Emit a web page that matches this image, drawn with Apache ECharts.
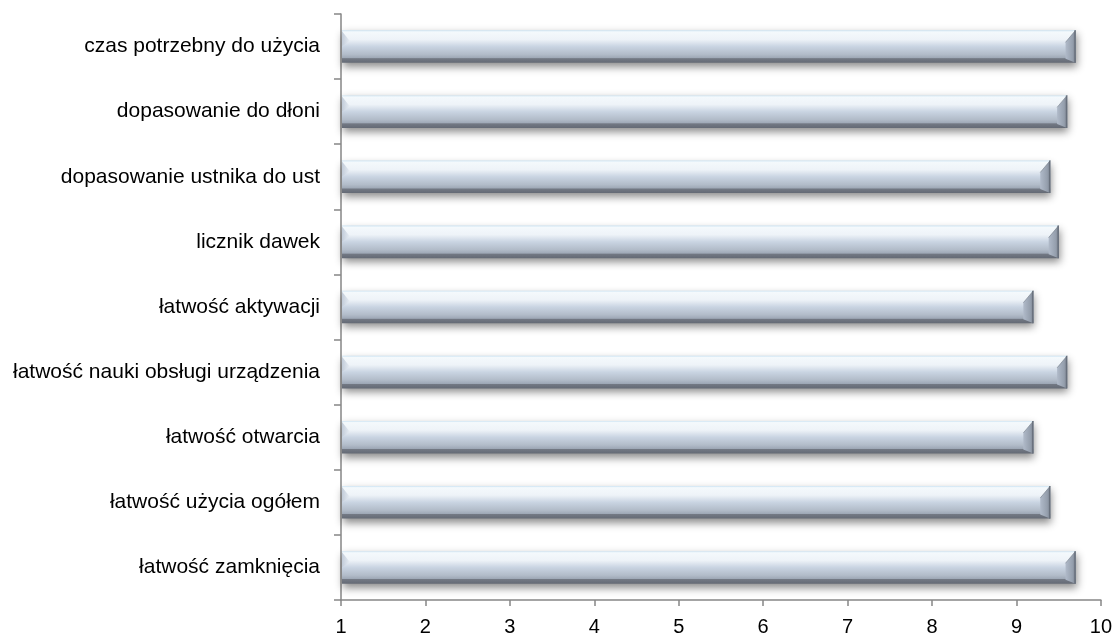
<!DOCTYPE html>
<html>
<head>
<meta charset="utf-8">
<script src="https://cdn.jsdelivr.net/npm/echarts@6/dist/echarts.min.js"></script>
<style>
  html, body { margin: 0; padding: 0; background: #fff; }
  #chart { width: 1115px; height: 637px; }
</style>
</head>
<body>
<div id="chart"></div>
<script>
// Ratings per feature (scale 1–10), listed top to bottom
const categories = [
  'czas potrzebny do użycia',
  'dopasowanie do dłoni',
  'dopasowanie ustnika do ust',
  'licznik dawek',
  'łatwość aktywacji',
  'łatwość nauki obsługi urządzenia',
  'łatwość otwarcia',
  'łatwość użycia ogółem',
  'łatwość zamknięcia'
];
const scores = [9.7, 9.6, 9.4, 9.5, 9.2, 9.6, 9.2, 9.4, 9.7];
const axisMin = 1;
const axisMax = 10;
const tickStep = 1;

const chart = echarts.init(document.getElementById('chart'), null, { renderer: 'canvas' });

const FONT = '"Liberation Sans", Arial, sans-serif';
const AXIS_GREY = '#868686';

// Bevelled bar: face gradient, darker right facet, lighter left facet, soft drop shadow
function renderBevelBar(params, api) {
  const idx = api.value(1);
  const val = api.value(0);
  const start = api.coord([axisMin, idx]);
  const end = api.coord([val, idx]);
  const band = api.size([0, 1])[1];
  const h = band * 0.5;
  const x0 = start[0] + 1;
  const x1 = end[0];
  const y0 = start[1] - h / 2;
  const y1 = start[1] + h / 2;
  const bx = 10;
  const by = 12;

  const face = new echarts.graphic.LinearGradient(0, 0, 0, 1, [
    { offset: 0, color: '#cde4f3' },
    { offset: 0.05, color: '#f4f9fc' },
    { offset: 0.28, color: '#eef3f8' },
    { offset: 0.5, color: '#c9d4e2' },
    { offset: 0.74, color: '#b2bcc9' },
    { offset: 0.85, color: '#9ea8b6' },
    { offset: 0.87, color: '#737984' },
    { offset: 1, color: '#646a75' }
  ]);
  const rightFacet = new echarts.graphic.LinearGradient(0, 0, 1, 0, [
    { offset: 0, color: '#b0bac9' },
    { offset: 0.7, color: '#959fad' },
    { offset: 1, color: '#7c8491' }
  ]);
  const leftFacet = new echarts.graphic.LinearGradient(1, 0, 0, 0, [
    { offset: 0, color: '#e8eef5' },
    { offset: 1, color: '#c2ccd9' }
  ]);

  return {
    type: 'group',
    children: [
      {
        type: 'rect',
        shape: { x: x0, y: y0, width: x1 - x0, height: y1 - y0 },
        style: {
          fill: face,
          shadowBlur: 8,
          shadowOffsetY: 4,
          shadowOffsetX: 1,
          shadowColor: 'rgba(0,0,0,0.45)'
        }
      },
      {
        type: 'polygon',
        shape: { points: [[x0, y0 + 1], [x0 + 8, y0 + 11], [x0, y0 + 16]] },
        style: { fill: leftFacet }
      },
      {
        type: 'polygon',
        shape: { points: [[x1, y0], [x1 - bx, y0 + by], [x1 - bx, y1 - 4], [x1, y1]] },
        style: { fill: rightFacet }
      },
      {
        type: 'line',
        shape: { x1: x1 - 0.5, y1: y0, x2: x1 - 0.5, y2: y1 },
        style: { stroke: '#68707c', lineWidth: 1.5 }
      },
      {
        type: 'line',
        shape: { x1: x1, y1: y0, x2: x1 - bx, y2: y0 + by },
        style: { stroke: 'rgba(110,118,130,0.55)', lineWidth: 1 }
      }
    ]
  };
}

chart.setOption({
  animation: false,
  backgroundColor: '#ffffff',
  grid: { left: 341, right: 12, top: 14, bottom: 34, containLabel: false },
  xAxis: {
    type: 'value',
    min: axisMin,
    max: axisMax,
    interval: tickStep,
    axisLine: { show: true, lineStyle: { color: AXIS_GREY, width: 1.5 } },
    axisTick: { show: true, length: 6, lineStyle: { color: AXIS_GREY, width: 1.5 } },
    splitLine: { show: false },
    axisLabel: { color: '#000', fontFamily: FONT, fontSize: 20, margin: 17 }
  },
  yAxis: {
    type: 'category',
    data: categories,
    inverse: true,
    boundaryGap: true,
    axisLine: { show: true, lineStyle: { color: AXIS_GREY, width: 1.5 } },
    axisTick: { show: true, length: 7, lineStyle: { color: AXIS_GREY, width: 1.5 } },
    splitLine: { show: false },
    axisLabel: { color: '#000', fontFamily: FONT, fontSize: 21, margin: 21 }
  },
  series: [{
    type: 'custom',
    renderItem: renderBevelBar,
    encode: { x: 0, y: 1 },
    data: scores.map((v, i) => [v, i]),
    clip: false
  }]
});
</script>
</body>
</html>
